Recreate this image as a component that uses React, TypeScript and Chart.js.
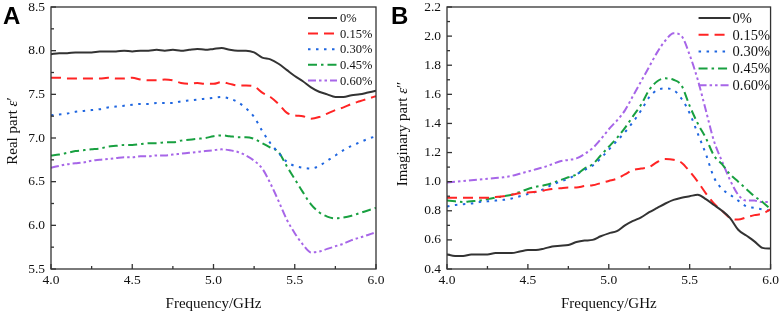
import React, { useEffect, useRef } from "react";
import { Chart, registerables } from "chart.js";

Chart.register(...registerables);

// ---------- data ----------
const freq = [
  4.0, 4.05, 4.1, 4.15, 4.2, 4.25, 4.3, 4.35, 4.4, 4.45, 4.5, 4.55, 4.6, 4.65, 4.7, 4.75, 4.8, 4.85, 4.9, 4.95,
  5.0, 5.05, 5.1, 5.15, 5.2, 5.25, 5.3, 5.35, 5.4, 5.45, 5.5, 5.55, 5.6, 5.65, 5.7, 5.75, 5.8, 5.85, 5.9, 5.95, 6.0,
];

const seriesLabels = ["0%", "0.15%", "0.30%", "0.45%", "0.60%"];

// Real part ε′
const real0 = [
  7.96, 7.97, 7.97, 7.98, 7.98, 7.98, 7.99, 7.99, 7.99, 8.0, 7.99, 8.0, 8.0, 8.01, 8.0, 8.01, 8.0, 8.01, 8.02, 8.01,
  8.02, 8.03, 8.01, 8.0, 8.0, 7.98, 7.92, 7.9, 7.85, 7.78, 7.71, 7.65, 7.58, 7.53, 7.5, 7.47, 7.47, 7.49, 7.5, 7.52, 7.54,
];
const real015 = [
  7.69, 7.69, 7.68, 7.68, 7.68, 7.68, 7.68, 7.69, 7.68, 7.68, 7.69, 7.67, 7.66, 7.66, 7.67, 7.66, 7.63, 7.62, 7.63, 7.62,
  7.62, 7.64, 7.62, 7.6, 7.6, 7.59, 7.52, 7.47, 7.39, 7.29, 7.26, 7.25, 7.22, 7.24, 7.28, 7.32, 7.35, 7.39, 7.42, 7.45, 7.48,
];
const real030 = [
  7.26, 7.27, 7.28, 7.3, 7.31, 7.32, 7.33, 7.35, 7.36, 7.37, 7.38, 7.39, 7.39, 7.4, 7.4, 7.4, 7.42, 7.43, 7.44, 7.45,
  7.46, 7.47, 7.45, 7.41, 7.34, 7.24, 7.08, 6.94, 6.83, 6.73, 6.68, 6.66, 6.65, 6.68, 6.74, 6.8, 6.86, 6.91, 6.95, 6.99, 7.02,
];
const real045 = [
  6.8, 6.81, 6.83, 6.85, 6.86, 6.87, 6.88, 6.9, 6.91, 6.92, 6.92, 6.93, 6.94, 6.94, 6.95, 6.95, 6.97, 6.98, 6.99, 7.0,
  7.02, 7.03, 7.02, 7.01, 7.01, 6.99, 6.94, 6.89, 6.84, 6.68, 6.53, 6.38, 6.24, 6.15, 6.1, 6.08, 6.09, 6.11, 6.14, 6.17, 6.2,
];
const real060 = [
  6.66, 6.68, 6.7, 6.71, 6.72, 6.74, 6.75, 6.76, 6.77, 6.78, 6.78, 6.79, 6.79, 6.8, 6.8, 6.81, 6.82, 6.83, 6.84, 6.85,
  6.86, 6.87, 6.86, 6.84, 6.8, 6.74, 6.65, 6.48, 6.28, 6.07, 5.91, 5.78, 5.69, 5.7, 5.73, 5.76, 5.79, 5.83, 5.86, 5.89, 5.92,
];

// Imaginary part ε″
const imag0 = [
  0.5, 0.49, 0.49, 0.5, 0.5, 0.5, 0.51, 0.51, 0.51, 0.52, 0.53, 0.53, 0.54, 0.555, 0.56, 0.565, 0.585, 0.595, 0.6, 0.625,
  0.645, 0.66, 0.7, 0.73, 0.755, 0.79, 0.82, 0.85, 0.875, 0.89, 0.9, 0.91, 0.88, 0.84, 0.8, 0.75, 0.67, 0.63, 0.59, 0.545, 0.54,
];
const imag015 = [
  0.89, 0.89, 0.89, 0.89, 0.89, 0.89, 0.895, 0.9, 0.91, 0.92, 0.925, 0.93, 0.94, 0.95, 0.955, 0.96, 0.96, 0.97, 0.975, 0.99,
  1.005, 1.02, 1.05, 1.08, 1.09, 1.1, 1.135, 1.155, 1.15, 1.13, 1.07, 1.0, 0.92, 0.85, 0.8, 0.75, 0.74, 0.755, 0.77, 0.78, 0.81,
];
const imag030 = [
  0.83, 0.84, 0.845, 0.85, 0.86, 0.865, 0.87, 0.875, 0.885, 0.9, 0.915, 0.93, 0.95, 0.98, 1.0, 1.02, 1.05, 1.08, 1.11, 1.16,
  1.22, 1.28, 1.34, 1.41, 1.49, 1.58, 1.63, 1.64, 1.63, 1.57, 1.47, 1.33, 1.19, 1.03, 0.95, 0.91, 0.87, 0.83, 0.82, 0.81, 0.8,
];
const imag045 = [
  0.87, 0.865, 0.86, 0.865, 0.87, 0.88, 0.89, 0.9, 0.91, 0.93, 0.95, 0.965, 0.975, 0.99, 1.01, 1.03, 1.05, 1.09, 1.12, 1.18,
  1.24, 1.3, 1.37, 1.45, 1.53, 1.63, 1.69, 1.71, 1.7, 1.66, 1.52, 1.4, 1.3, 1.18, 1.12, 1.05, 1.0, 0.95, 0.9, 0.86, 0.81,
];
const imag060 = [
  0.995, 1.0, 1.005, 1.01, 1.015, 1.02, 1.025, 1.03, 1.04, 1.055, 1.07, 1.085, 1.1, 1.12, 1.14, 1.15, 1.16, 1.19, 1.23, 1.29,
  1.36, 1.42, 1.49, 1.59, 1.69, 1.79, 1.89, 1.97, 2.02, 2.0, 1.87, 1.7, 1.49, 1.28, 1.14, 1.01, 0.91, 0.87, 0.87, 0.86, 0.86,
];

const realSeries = [real0, real015, real030, real045, real060];
const imagSeries = [imag0, imag015, imag030, imag045, imag060];

const lineColors = ["#333333", "#ff2424", "#1f66e0", "#18a040", "#a766e8"];
const lineDashes: number[][] = [[], [10, 6], [2.5, 5.5], [9, 4, 2.5, 4], [8, 3, 2.5, 3, 2.5, 3]];

const FONT = "'Liberation Serif', 'Times New Roman', serif";

// ---------- plugins ----------
const framePlugin = {
  id: "frame",
  afterDatasetsDraw(chart: any, _args: any, opts: any) {
    const { ctx, chartArea: a, scales } = chart;
    ctx.save();
    ctx.strokeStyle = "#333";
    ctx.lineWidth = 1.3;
    ctx.setLineDash([]);
    ctx.strokeRect(a.left, a.top, a.right - a.left, a.bottom - a.top);
    const drawTicks = (scale: any, minor: number, ratio: number, horizontal: boolean) => {
      const n = Math.round((scale.max - scale.min) / minor);
      for (let i = 0; i <= n; i++) {
        const v = scale.min + i * minor;
        const p = scale.getPixelForValue(v);
        const len = i % ratio === 0 ? 5 : 3;
        ctx.beginPath();
        if (horizontal) {
          ctx.moveTo(p, a.bottom);
          ctx.lineTo(p, a.bottom - len);
        } else {
          ctx.moveTo(a.left, p);
          ctx.lineTo(a.left + len, p);
        }
        ctx.stroke();
      }
    };
    drawTicks(scales.x, opts.xMinor, opts.xRatio, true);
    drawTicks(scales.y, opts.yMinor, opts.yRatio, false);
    ctx.restore();
  },
};

const legendPlugin = {
  id: "insideLegend",
  afterDraw(chart: any, _args: any, opts: any) {
    const { ctx, chartArea: a } = chart;
    ctx.save();
    ctx.font = `${opts.fontSize}px ${FONT}`;
    ctx.textBaseline = "middle";
    ctx.textAlign = "left";
    chart.data.datasets.forEach((ds: any, i: number) => {
      const y = a.top + opts.firstRow + i * opts.rowGap;
      ctx.strokeStyle = ds.borderColor;
      ctx.lineWidth = 2;
      ctx.setLineDash(ds.borderDash || []);
      ctx.beginPath();
      ctx.moveTo(a.right - opts.lineStart, y);
      ctx.lineTo(a.right - opts.lineEnd, y);
      ctx.stroke();
      ctx.setLineDash([]);
      ctx.fillStyle = "#111";
      ctx.fillText(ds.label, a.right - opts.textStart, y + 1);
    });
    ctx.restore();
  },
};

// vertical axis title with an italic symbol
const yTitlePlugin = {
  id: "yTitle",
  afterDraw(chart: any, _args: any, opts: any) {
    const { ctx } = chart;
    const parts: { text: string; italic: boolean }[] = opts.parts;
    const size = opts.fontSize;
    const fontOf = (it: boolean) => `${it ? "italic " : ""}${size}px ${FONT}`;
    let total = 0;
    const widths = parts.map((p) => {
      ctx.font = fontOf(p.italic);
      const w = ctx.measureText(p.text).width;
      total += w;
      return w;
    });
    ctx.save();
    ctx.translate(opts.x, opts.cy);
    ctx.rotate(-Math.PI / 2);
    ctx.fillStyle = "#111";
    ctx.textBaseline = "middle";
    ctx.textAlign = "left";
    let x = -total / 2;
    parts.forEach((p, i) => {
      ctx.font = fontOf(p.italic);
      ctx.fillText(p.text, x, 0);
      x += widths[i];
    });
    ctx.restore();
  },
};

function makeConfig(p: {
  series: number[][];
  yMin: number;
  yMax: number;
  yStep: number;
  yMinor: number;
  yTitleParts: { text: string; italic: boolean }[];
  yTitleCy: number;
  yWidth: number;
  padRight: number;
  legend: any;
}): any {
  return {
    type: "line",
    data: {
      datasets: p.series.map((vals, i) => ({
        label: seriesLabels[i],
        data: freq.map((f, j) => ({ x: f, y: vals[j] })),
        borderColor: lineColors[i],
        borderDash: lineDashes[i],
        borderWidth: 2,
        pointRadius: 0,
        tension: 0.4,
        cubicInterpolationMode: "monotone",
        fill: false,
      })),
    },
    options: {
      responsive: false,
      animation: false,
      layout: { padding: { left: 0, top: 7, right: p.padRight, bottom: 0 } },
      plugins: {
        legend: { display: false },
        tooltip: { enabled: false },
        frame: { xMinor: 0.25, xRatio: 2, yMinor: p.yMinor, yRatio: Math.round(p.yStep / p.yMinor) },
        insideLegend: p.legend,
        yTitle: { parts: p.yTitleParts, x: 13, cy: p.yTitleCy, fontSize: 15 },
      },
      scales: {
        x: {
          type: "linear",
          min: 4,
          max: 6,
          grid: { display: false, drawTicks: false },
          border: { display: false },
          ticks: {
            stepSize: 0.5,
            padding: 3,
            color: "#111",
            font: { family: FONT, size: 13.5 },
            callback: (v: any) => Number(v).toFixed(1),
            maxRotation: 0,
          },
          title: {
            display: true,
            text: "Frequency/GHz",
            color: "#111",
            font: { family: FONT, size: 15 },
            padding: { top: 4, bottom: 2 },
          },
          afterFit: (s: any) => {
            s.height = 46;
          },
        },
        y: {
          min: p.yMin,
          max: p.yMax,
          grid: { display: false, drawTicks: false },
          border: { display: false },
          ticks: {
            stepSize: p.yStep,
            padding: 6,
            color: "#111",
            font: { family: FONT, size: 13.5 },
            callback: (v: any) => Number(v).toFixed(1),
          },
          title: { display: false },
          afterFit: (s: any) => {
            s.width = p.yWidth;
            s.paddingTop = 0;
            s.paddingBottom = 0;
          },
        },
      },
    },
    plugins: [framePlugin, legendPlugin, yTitlePlugin],
  };
}

function Panel({ config, width, height }: { config: any; width: number; height: number }) {
  const ref = useRef<HTMLCanvasElement | null>(null);
  useEffect(() => {
    if (!ref.current) return;
    const chart = new Chart(ref.current, config);
    return () => chart.destroy();
  }, [config]);
  return <canvas ref={ref} width={width} height={height} style={{ display: "block", width, height }} />;
}

const configA = makeConfig({
  series: realSeries,
  yMin: 5.5,
  yMax: 8.5,
  yStep: 0.5,
  yMinor: 0.25,
  yTitleParts: [
    { text: "Real part ", italic: false },
    { text: "ε", italic: true },
    { text: "′", italic: false },
  ],
  yTitleCy: 131,
  yWidth: 51,
  padRight: 14,
  legend: { fontSize: 12.5, firstRow: 11, rowGap: 15.6, lineStart: 68, lineEnd: 39, textStart: 36 },
});

const configB = makeConfig({
  series: imagSeries,
  yMin: 0.4,
  yMax: 2.2,
  yStep: 0.2,
  yMinor: 0.1,
  yTitleParts: [
    { text: "Imaginary part ", italic: false },
    { text: "ε", italic: true },
    { text: "″", italic: false },
  ],
  yTitleCy: 134,
  yWidth: 57,
  padRight: 10,
  legend: { fontSize: 14.5, firstRow: 11, rowGap: 16.8, lineStart: 72, lineEnd: 40, textStart: 38 },
});

export default function App() {
  const letter: React.CSSProperties = {
    position: "absolute",
    top: 4,
    fontFamily: "'Liberation Sans', Arial, sans-serif",
    fontWeight: 700,
    fontSize: 24,
    lineHeight: "24px",
    color: "#000",
  };
  return (
    <div style={{ position: "absolute", left: 0, top: 0, width: 782, height: 315, background: "#fff", overflow: "hidden" }}>
      <div style={{ position: "absolute", left: 0, top: 0 }}>
        <Panel config={configA} width={390} height={315} />
      </div>
      <div style={{ position: "absolute", left: 390, top: 0 }}>
        <Panel config={configB} width={392} height={315} />
      </div>
      <div style={{ ...letter, left: 3 }}>A</div>
      <div style={{ ...letter, left: 391 }}>B</div>
    </div>
  );
}
